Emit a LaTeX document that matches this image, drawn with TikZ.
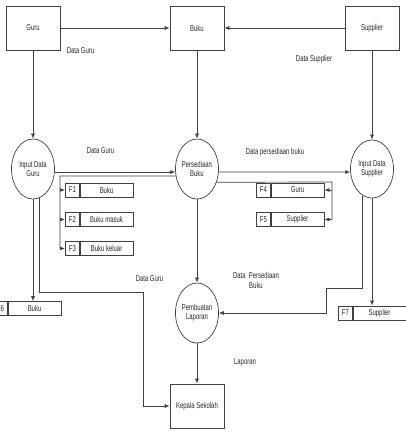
\documentclass[tikz,border=0pt]{standalone}
\usepackage{fontspec}
\setmainfont{Liberation Sans}[FakeStretch=0.7]
\usetikzlibrary{shapes.geometric,arrows.meta,positioning}
\tikzset{
  entity/.style={draw=black!75,line width=0.7pt,minimum width=54pt,minimum height=44pt,inner sep=0pt},
  proc/.style={draw=black!75,line width=0.7pt,ellipse,minimum width=43pt,minimum height=60pt,inner sep=0pt,align=center},
  storeid/.style={draw=black!75,line width=0.7pt,minimum width=14pt,minimum height=14pt,inner sep=0pt},
  storename/.style={draw=black!75,line width=0.7pt,minimum width=53pt,minimum height=14pt,inner sep=0pt},
  flow/.style={draw=black!75,line width=0.7pt,-{Latex[length=5pt,width=4pt]}},
  line/.style={draw=black!75,line width=0.7pt},
  lbl/.style={inner sep=0pt,align=center}
}

\begin{document}
\begin{tikzpicture}[x=1pt,y=-1pt,font=\fontsize{8.5}{9.5}\selectfont,text=black!85]
\useasboundingbox (0,0) rectangle (405,433);
% entities
\node[entity] (guru) at (33,28) {Guru};
\node[entity] (buku) at (197,28) {Buku};
\node[entity] (supplier) at (372,28) {Supplier};
\node[entity] (kepala) at (197,406) {Kepala Sekolah};

% processes
\node[proc] (idg) at (33,169) {Input Data\\Guru};
\node[proc] (pb) at (197,169) {Persediaan\\Buku};
\node[proc,minimum height=58pt] (ids) at (372,169) {Input Data\\Supplier};
\node[proc] (pl) at (197,313) {Pembuatan\\Laporan};

% data stores
\node[storeid,anchor=west] (f1) at (65,190) {F1};
\node[storename,right=0pt of f1] (f1n) {Buku};
\node[storeid,anchor=west] (f2) at (65,219.5) {F2};
\node[storename,right=0pt of f2] (f2n) {Buku masuk};
\node[storeid,anchor=west] (f3) at (65,248.5) {F3};
\node[storename,right=0pt of f3] (f3n) {Buku keluar};
\node[storeid,anchor=west] (f4) at (256,190) {F4};
\node[storename,right=0pt of f4] (f4n) {Guru};
\node[storeid,anchor=west] (f5) at (256,219.5) {F5};
\node[storename,right=0pt of f5] (f5n) {Supplier};
\node[storeid,anchor=west] (f6) at (-7,308.5) {F6};
\node[storename,right=0pt of f6] (f6n) {Buku};
\node[storeid,anchor=west] (f7) at (338,313) {F7};
\node[storename,right=0pt of f7] (f7n) {Supplier};

% labels
\node[lbl] (lguru1) at (80.5,51) {Data Guru};
\node[lbl] (lsup) at (314,59) {Data Supplier};
\node[lbl] (lguru2) at (100.5,151) {Data Guru};
\node[lbl] (lpers) at (275,152) {Data persediaan buku};
\node[lbl] (lguru3) at (149.5,279) {Data Guru};
\node[lbl] (lpb) at (256,280.5) {Data\ \ Persediaan\\Buku};
\node[lbl] (llap) at (245,362) {Laporan};

% flows
\draw[flow] (guru) -- (buku);
\draw[flow] (supplier) -- (buku);
\draw[flow] (guru) -- (idg);
\draw[flow] (buku) -- (pb);
\draw[flow] (supplier) -- (ids);
\draw[flow] (idg.352) -- (pb.188);
\draw[flow] (pb.352) -- (ids.188);

\coordinate (jl) at (60,176);
\draw[line] (pb.198.5) -- (jl) -- (jl |- f3.west);
\foreach \s in {f1,f2,f3}
    \draw[flow] (jl |- \s.west) -- (\s.west);

\coordinate (jr) at (332,182);
\draw[line] (pb.326) -- (jr) -- (jr |- f5n.east);
\foreach \s in {f4n,f5n}
    \draw[flow] (jr |- \s.east) -- (\s.east);

\coordinate (r1) at (326,288);
\draw[flow] (ids.251) |- (r1) |- (pl.east);
\draw[flow] (ids.south) -- (ids.south |- f7n.north);

\draw[flow] (idg.south) -- (idg.south |- f6n.north);
\coordinate (l1) at (143,292);
\draw[flow] (idg.283.4) |- (l1) |- (kepala.west);

\draw[flow] (pb) -- (pl);
\draw[flow] (pl) -- (kepala);
\end{tikzpicture}
\end{document}
